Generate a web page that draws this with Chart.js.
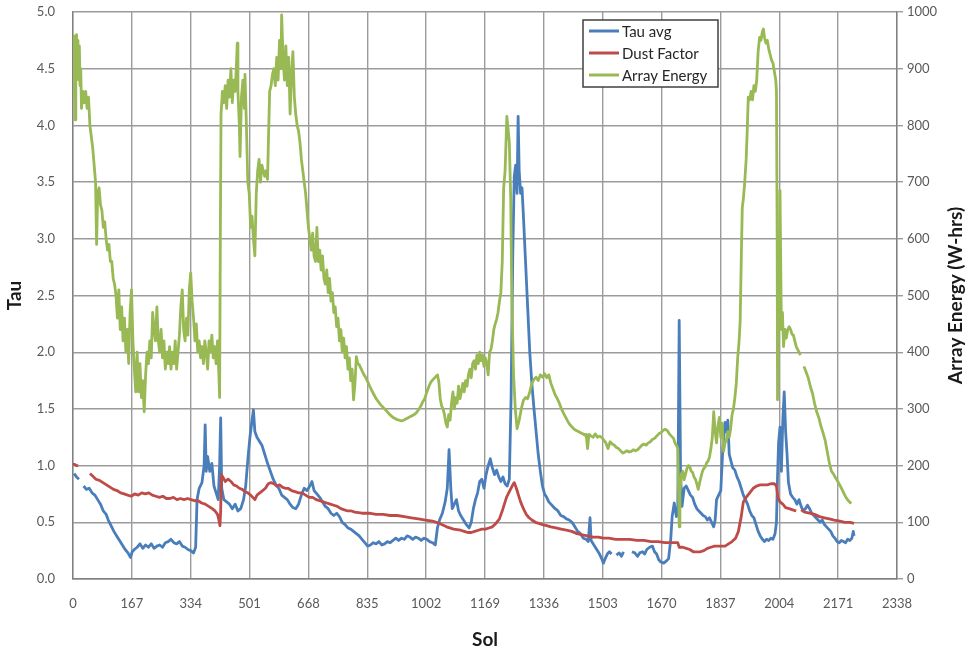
<!DOCTYPE html>
<html>
<head>
<meta charset="utf-8">
<title>Tau, Dust Factor and Array Energy by Sol</title>
<script src="https://cdn.jsdelivr.net/npm/chart.js@4/dist/chart.umd.min.js"></script>
<style>
  html, body { margin: 0; padding: 0; background: #fff; }
  #wrap { width: 965px; height: 653px; position: relative; }
</style>
</head>
<body>
<div id="wrap"><canvas id="solChart"></canvas></div>
<script>
// x axis: Sol, ticks every 167 sols
const solTicks = [0, 167, 334, 501, 668, 835, 1002, 1169, 1336, 1503, 1670, 1837, 2004, 2171, 2338];

// Tau avg (left axis)
const tauSols = [3, 10, 17, 24, 30, 38, 46, 54, 62, 70, 78, 86, 94, 100, 108, 116, 124, 132, 140, 148,
  156, 163, 168, 174, 182, 190, 198, 206, 214, 222, 230, 238, 246, 254, 262, 270, 278, 286, 294, 302,
  310, 318, 326, 334, 342, 348, 352, 358, 366, 372, 375, 378, 382, 388, 394, 400, 406, 412, 416, 419,
  422, 428, 436, 444, 452, 460, 468, 476, 484, 490, 496, 502, 508, 512, 516, 522, 528, 536, 544, 552,
  560, 568, 576, 584, 592, 600, 608, 616, 624, 632, 640, 648, 656, 664, 672, 678, 684, 692, 700, 708,
  716, 724, 732, 740, 748, 756, 764, 772, 780, 788, 796, 804, 812, 820, 828, 836, 844, 852, 860, 868,
  876, 884, 892, 900, 908, 916, 924, 932, 940, 948, 956, 964, 972, 980, 988, 996, 1004, 1012, 1020, 1028,
  1034, 1040, 1048, 1056, 1062, 1067, 1072, 1076, 1082, 1088, 1094, 1100, 1108, 1116, 1124, 1130, 1136, 1142, 1148, 1154,
  1160, 1166, 1172, 1178, 1184, 1190, 1196, 1202, 1208, 1214, 1220, 1226, 1232, 1238, 1243, 1248, 1252, 1256, 1260, 1263,
  1266, 1270, 1274, 1278, 1284, 1290, 1296, 1302, 1308, 1314, 1320, 1326, 1332, 1338, 1344, 1350, 1356, 1362, 1368, 1376,
  1384, 1392, 1400, 1408, 1416, 1424, 1432, 1440, 1448, 1456, 1462, 1467, 1470, 1478, 1486, 1494, 1500, 1505, 1510, 1516,
  1522, 1528, 1534, 1542, 1550, 1556, 1562, 1570, 1586, 1594, 1602, 1608, 1616, 1622, 1628, 1636, 1644, 1650, 1656, 1662,
  1668, 1676, 1684, 1690, 1696, 1700, 1706, 1712, 1716, 1720, 1724, 1728, 1734, 1740, 1746, 1752, 1758, 1764, 1770, 1776,
  1782, 1788, 1794, 1800, 1806, 1812, 1818, 1822, 1826, 1832, 1838, 1844, 1850, 1854, 1858, 1862, 1866, 1872, 1878, 1884,
  1890, 1896, 1902, 1908, 1914, 1920, 1926, 1932, 1938, 1944, 1950, 1956, 1962, 1968, 1974, 1980, 1986, 1992, 1996, 1999,
  2002, 2006, 2010, 2014, 2018, 2022, 2026, 2030, 2036, 2042, 2048, 2054, 2060, 2066, 2072, 2078, 2084, 2090, 2096, 2102,
  2108, 2114, 2120, 2126, 2132, 2138, 2144, 2150, 2156, 2162, 2168, 2174, 2180, 2186, 2192, 2198, 2204, 2210, 2214, 2216];
const tauValues = [0.93, 0.90, 0.88, null, 0.82, 0.79, 0.80, 0.76, 0.74, 0.70, 0.66, 0.60, 0.57, 0.52, 0.47, 0.42, 0.38, 0.34, 0.30, 0.26,
  0.23, 0.19, 0.24, 0.26, 0.28, 0.31, 0.27, 0.30, 0.28, 0.31, 0.27, 0.29, 0.30, 0.28, 0.32, 0.33, 0.35, 0.32, 0.31, 0.33,
  0.29, 0.28, 0.26, 0.25, 0.23, 0.28, 0.70, 0.80, 0.85, 1.00, 1.36, 0.95, 1.08, 0.95, 1.02, 0.82, 0.76, 0.70, 1.00, 1.42,
  0.80, 0.70, 0.68, 0.66, 0.62, 0.66, 0.60, 0.62, 0.70, 0.82, 1.05, 1.25, 1.40, 1.49, 1.30, 1.25, 1.22, 1.18, 1.10, 1.02,
  0.95, 0.88, 0.83, 0.80, 0.74, 0.72, 0.70, 0.66, 0.63, 0.62, 0.66, 0.74, 0.80, 0.78, 0.82, 0.86, 0.78, 0.75, 0.72, 0.68,
  0.64, 0.62, 0.58, 0.56, 0.58, 0.55, 0.50, 0.48, 0.45, 0.44, 0.42, 0.40, 0.38, 0.35, 0.32, 0.29, 0.30, 0.32, 0.31, 0.33,
  0.30, 0.31, 0.33, 0.32, 0.34, 0.36, 0.34, 0.36, 0.35, 0.38, 0.37, 0.35, 0.37, 0.36, 0.34, 0.36, 0.35, 0.33, 0.32, 0.30,
  0.45, 0.52, 0.58, 0.68, 0.80, 1.14, 0.80, 0.62, 0.66, 0.70, 0.60, 0.56, 0.52, 0.48, 0.45, 0.50, 0.62, 0.70, 0.76, 0.86,
  0.88, 0.80, 0.92, 1.00, 1.06, 0.98, 0.92, 0.96, 0.90, 0.86, 0.90, 0.84, 0.82, 0.88, 1.60, 2.90, 3.55, 3.65, 3.40, 4.08,
  3.60, 3.40, 3.45, 3.20, 2.80, 2.40, 2.00, 1.72, 1.50, 1.30, 1.10, 0.95, 0.82, 0.75, 0.72, 0.68, 0.66, 0.64, 0.62, 0.60,
  0.56, 0.55, 0.53, 0.52, 0.50, 0.46, 0.42, 0.40, 0.36, 0.35, 0.33, 0.54, 0.34, 0.30, 0.26, 0.22, 0.18, 0.14, 0.18, 0.22,
  0.24, 0.22, null, 0.21, 0.23, 0.20, 0.24, null, 0.24, 0.23, 0.20, 0.23, 0.24, 0.22, 0.26, 0.28, 0.29, 0.24, 0.22, 0.17,
  0.15, 0.14, 0.16, 0.18, 0.35, 0.55, 0.67, 0.55, 0.60, 2.28, 0.90, 0.64, 0.80, 0.82, 0.78, 0.74, 0.72, 0.66, 0.62, 0.60,
  0.58, 0.56, 0.55, 0.52, 0.54, 0.50, 0.46, 0.52, 0.70, 0.74, 0.78, 1.16, 1.38, 1.30, 1.40, 1.10, 1.05, 0.98, 0.96, 0.90,
  0.86, 0.80, 0.74, 0.70, 0.66, 0.60, 0.56, 0.54, 0.48, 0.42, 0.38, 0.35, 0.33, 0.35, 0.34, 0.36, 0.35, 0.40, 0.50, 0.90,
  1.20, 1.34, 0.95, 1.40, 1.65, 1.30, 1.10, 0.85, 0.75, 0.72, 0.70, 0.66, 0.70, 0.64, 0.60, 0.62, 0.65, 0.62, 0.58, 0.56,
  0.54, 0.52, 0.50, 0.52, 0.48, 0.46, 0.44, 0.42, 0.38, 0.36, 0.33, 0.32, 0.34, 0.33, 0.32, 0.35, 0.34, 0.36, 0.42, 0.38];

// Dust Factor (left axis)
const dustSols = [0, 5, 10, 15, 20, 48, 55, 65, 75, 85, 95, 105, 115, 125, 135, 145, 155, 165, 175, 185,
  195, 205, 215, 225, 235, 245, 255, 265, 275, 285, 295, 305, 315, 325, 335, 345, 355, 365, 375, 385,
  395, 403, 410, 414, 417, 419, 421, 425, 432, 440, 448, 456, 464, 472, 480, 488, 496, 504, 510, 516,
  522, 530, 538, 546, 554, 562, 570, 578, 586, 594, 602, 610, 620, 630, 640, 650, 660, 670, 680, 690,
  700, 710, 720, 730, 740, 750, 760, 770, 780, 790, 800, 820, 840, 860, 880, 900, 920, 940, 960, 980,
  1000, 1020, 1040, 1060, 1080, 1100, 1110, 1120, 1130, 1140, 1150, 1160, 1170, 1180, 1190, 1200, 1210, 1220, 1230, 1238,
  1246, 1252, 1258, 1264, 1270, 1278, 1286, 1294, 1302, 1312, 1322, 1332, 1344, 1356, 1370, 1385, 1400, 1415, 1430, 1445,
  1460, 1475, 1490, 1505, 1520, 1540, 1560, 1580, 1600, 1620, 1640, 1660, 1680, 1700, 1716, 1720, 1730, 1740, 1750, 1760,
  1770, 1780, 1790, 1800, 1810, 1820, 1830, 1840, 1850, 1860, 1870, 1880, 1888, 1896, 1902, 1910, 1920, 1930, 1940, 1950,
  1960, 1970, 1980, 1990, 1996, 2000, 2006, 2014, 2022, 2032, 2042, 2052, 2058, 2066, 2076, 2090, 2104, 2118, 2132, 2146,
  2160, 2176, 2190, 2205, 2216];
const dustValues = [1.01, 1.01, 1.00, 1.00, null, 0.93, 0.91, 0.88, 0.87, 0.85, 0.83, 0.81, 0.79, 0.78, 0.76, 0.75, 0.74, 0.73, 0.75, 0.74,
  0.76, 0.75, 0.76, 0.74, 0.73, 0.72, 0.73, 0.71, 0.71, 0.72, 0.70, 0.71, 0.70, 0.71, 0.70, 0.69, 0.69, 0.67, 0.66, 0.64,
  0.62, 0.60, 0.57, 0.52, 0.47, 0.60, 0.92, 0.90, 0.86, 0.88, 0.86, 0.83, 0.82, 0.80, 0.79, 0.77, 0.76, 0.74, 0.72, 0.70,
  0.74, 0.76, 0.78, 0.80, 0.84, 0.85, 0.84, 0.82, 0.83, 0.81, 0.80, 0.80, 0.78, 0.77, 0.76, 0.76, 0.74, 0.72, 0.72, 0.70,
  0.69, 0.68, 0.67, 0.66, 0.65, 0.64, 0.62, 0.61, 0.60, 0.60, 0.59, 0.58, 0.58, 0.57, 0.57, 0.56, 0.56, 0.55, 0.54, 0.53,
  0.52, 0.51, 0.49, 0.46, 0.44, 0.43, 0.42, 0.41, 0.41, 0.42, 0.43, 0.44, 0.44, 0.45, 0.46, 0.49, 0.53, 0.62, 0.72, 0.77,
  0.82, 0.85, 0.80, 0.74, 0.68, 0.62, 0.57, 0.54, 0.52, 0.50, 0.49, 0.48, 0.47, 0.46, 0.45, 0.44, 0.43, 0.42, 0.40, 0.39,
  0.38, 0.37, 0.37, 0.36, 0.36, 0.35, 0.35, 0.35, 0.34, 0.34, 0.33, 0.33, 0.32, 0.32, 0.32, 0.28, 0.28, 0.27, 0.26, 0.24,
  0.24, 0.24, 0.25, 0.27, 0.28, 0.29, 0.29, 0.29, 0.29, 0.31, 0.33, 0.36, 0.42, 0.55, 0.68, 0.72, 0.76, 0.80, 0.82, 0.83,
  0.83, 0.83, 0.84, 0.84, 0.82, 0.72, 0.68, 0.66, 0.63, 0.62, 0.61, 0.60, null, 0.61, 0.59, 0.58, 0.57, 0.55, 0.54, 0.53,
  0.52, 0.51, 0.50, 0.50, 0.49];

// Array Energy in W-hrs (right axis)
const energySols = [2, 4, 6, 8, 10, 12, 14, 16, 18, 20, 22, 24, 28, 32, 36, 40, 44, 48, 52, 56,
  60, 64, 67, 70, 74, 78, 82, 86, 90, 94, 98, 102, 106, 110, 114, 118, 122, 126, 130, 134,
  138, 142, 146, 150, 154, 158, 162, 166, 170, 174, 178, 182, 186, 190, 194, 198, 202, 206, 210, 214,
  218, 222, 226, 230, 234, 238, 242, 246, 250, 254, 258, 262, 266, 270, 274, 278, 282, 286, 290, 294,
  298, 302, 306, 310, 314, 318, 322, 326, 330, 334, 338, 342, 346, 350, 354, 358, 362, 366, 370, 374,
  378, 382, 386, 390, 394, 398, 402, 406, 410, 414, 416, 418, 420, 424, 428, 432, 436, 440, 444, 448,
  452, 456, 460, 464, 466, 468, 472, 474, 478, 482, 486, 488, 492, 496, 500, 504, 508, 512, 516, 520,
  524, 528, 532, 536, 540, 544, 548, 552, 554, 558, 562, 566, 570, 574, 578, 582, 586, 590, 592, 596,
  600, 604, 608, 612, 616, 620, 624, 628, 632, 636, 640, 644, 648, 652, 656, 660, 664, 668, 672, 676,
  680, 684, 688, 692, 696, 700, 704, 708, 712, 716, 720, 724, 728, 732, 736, 740, 744, 748, 752, 756,
  760, 764, 768, 772, 776, 780, 784, 788, 792, 796, 800, 804, 808, 812, 818, 824, 830, 836, 842, 848,
  854, 860, 866, 872, 878, 884, 890, 896, 902, 908, 914, 920, 926, 932, 938, 944, 950, 956, 962, 968,
  974, 980, 986, 992, 998, 1004, 1010, 1016, 1022, 1028, 1034, 1038, 1042, 1046, 1050, 1054, 1058, 1062, 1066, 1070,
  1074, 1078, 1082, 1086, 1090, 1094, 1098, 1102, 1106, 1110, 1114, 1118, 1122, 1126, 1130, 1134, 1138, 1142, 1146, 1150,
  1154, 1158, 1162, 1166, 1170, 1174, 1178, 1182, 1186, 1190, 1194, 1198, 1202, 1206, 1210, 1214, 1218, 1222, 1226, 1231,
  1235, 1238, 1242, 1245, 1250, 1255, 1260, 1266, 1272, 1278, 1284, 1290, 1296, 1302, 1308, 1314, 1320, 1326, 1332, 1338,
  1344, 1350, 1356, 1362, 1368, 1374, 1380, 1386, 1392, 1398, 1404, 1410, 1416, 1422, 1428, 1434, 1440, 1446, 1452, 1456,
  1460, 1464, 1470, 1476, 1482, 1488, 1494, 1500, 1506, 1512, 1518, 1524, 1530, 1536, 1542, 1548, 1554, 1560, 1566, 1572,
  1578, 1584, 1590, 1596, 1602, 1608, 1614, 1620, 1626, 1632, 1638, 1644, 1650, 1656, 1662, 1668, 1674, 1680, 1686, 1692,
  1698, 1704, 1708, 1712, 1716, 1718, 1720, 1722, 1726, 1730, 1734, 1738, 1742, 1746, 1750, 1754, 1758, 1762, 1766, 1770,
  1774, 1778, 1782, 1786, 1790, 1794, 1798, 1802, 1806, 1810, 1814, 1818, 1822, 1826, 1830, 1834, 1838, 1842, 1846, 1850,
  1854, 1858, 1862, 1866, 1870, 1874, 1878, 1882, 1886, 1890, 1893, 1896, 1899, 1902, 1906, 1910, 1913, 1916, 1920, 1924,
  1928, 1932, 1936, 1940, 1944, 1948, 1952, 1956, 1959, 1962, 1966, 1970, 1974, 1978, 1982, 1986, 1990, 1994, 1996, 1998,
  1999, 2001, 2004, 2006, 2008, 2010, 2013, 2016, 2020, 2024, 2028, 2032, 2036, 2040, 2044, 2048, 2052, 2056, 2060, 2064,
  2068, 2074, 2080, 2086, 2092, 2098, 2104, 2110, 2116, 2122, 2128, 2134, 2140, 2146, 2152, 2158, 2164, 2170, 2176, 2182,
  2188, 2194, 2200, 2205, 2208];
const energyValues = [960, 890, 810, 930, 960, 900, 950, 880, 940, 870, 900, 830, 860, 840, 860, 830, 850, 800, 780, 760,
  730, 700, 590, 680, 690, 660, 650, 620, 630, 600, 580, 590, 560, 560, 530, 520, 500, 460, 510, 440,
  480, 420, 460, 400, 440, 380, 470, 510, 420, 370, 330, 400, 330, 380, 320, 350, 295, 360, 400, 380,
  420, 390, 470, 440, 420, 480, 420, 400, 440, 390, 420, 370, 400, 380, 410, 370, 400, 380, 420, 370,
  400, 430, 480, 510, 440, 420, 460, 430, 510, 540, 490, 460, 420, 450, 400, 420, 390, 410, 380, 420,
  400, 370, 420, 400, 430, 390, 410, 380, 420, 360, 320, 600, 820, 860, 840, 870, 830, 880, 850, 900,
  840, 880, 860, 910, 945, 860, 800, 745, 850, 880, 830, 890, 800, 700, 680, 620, 640, 600, 570, 680,
  720, 740, 700, 730, 720, 710, 720, 705, 760, 860, 870, 890, 900, 870, 920, 880, 950, 900, 995, 920,
  880, 940, 870, 920, 820, 890, 930, 850, 820, 800, 790, 770, 740, 720, 700, 680, 650, 620, 600, 580,
  610, 570, 560, 620, 560, 580, 545, 570, 530, 520, 545, 505, 530, 490, 505, 470, 480, 445, 460, 420,
  440, 400, 425, 390, 410, 370, 390, 350, 370, 316, 345, 392, 380, 378, 370, 362, 356, 348, 340, 332,
  325, 318, 313, 308, 304, 300, 296, 292, 288, 285, 283, 281, 280, 279, 280, 282, 284, 286, 288, 290,
  293, 298, 304, 312, 318, 330, 340, 348, 352, 356, 360, 348, 318, 305, 300, 290, 275, 268, 290, 280,
  310, 330, 300, 320, 310, 340, 318, 330, 345, 330, 350, 340, 360, 370, 355, 380, 385, 370, 395, 380,
  400, 385, 395, 375, 390, 380, 360, 400, 405, 420, 440, 450, 458, 470, 490, 505, 560, 690, 720, 816,
  790, 770, 670, 500, 360, 300, 265, 280, 300, 315, 320, 318, 330, 345, 352, 356, 350, 360, 356, 362,
  355, 360, 345, 335, 325, 318, 310, 300, 292, 285, 278, 272, 268, 264, 262, 260, 258, 256, 254, 255,
  230, 255, 252, 250, 256, 250, 252, 250, 245, 240, 230, 242, 238, 236, 232, 230, 226, 222, 224, 226,
  224, 225, 228, 226, 228, 232, 236, 238, 236, 240, 242, 246, 248, 252, 256, 258, 262, 264, 262, 256,
  252, 248, 240, 236, 230, 160, 92, 150, 185, 190, 175, 185, 195, 200, 198, 190, 188, 180, 176, 168,
  158, 170, 180, 190, 195, 198, 205, 208, 215, 230, 250, 295, 260, 240, 270, 285, 250, 275, 225, 240,
  245, 260, 250, 265, 290, 300, 320, 345, 390, 420, 455, 560, 655, 670, 700, 740, 790, 850, 845, 860,
  845, 870, 860, 880, 930, 955, 950, 965, 970, 955, 945, 950, 935, 925, 915, 910, 895, 880, 860, 600,
  316, 420, 600, 685, 560, 440, 470, 410, 440, 425, 440, 445, 440, 432, 430, 420, 410, 405, 400, 395,
  null, 375, 365, 355, 340, 328, 310, 295, 285, 270, 258, 245, 225, 205, 190, 185, 178, 172, 165, 158,
  150, 143, 138, 135, 133];

const toPoints = (xs, ys) => xs.map((x, i) => ({ x: x, y: ys[i] }));

const FONT = "Lato, 'Open Sans', sans-serif";
const TEXT_GRAY = '#595959';
const GRID_GRAY = '#9b9b9b';

// legend drawn as a boxed overlay inside the plot, near the top
const boxedLegend = {
  id: 'boxedLegend',
  afterDraw(chart) {
    const { ctx, chartArea } = chart;
    const x0 = chartArea.left + 510;
    const y0 = chartArea.top + 8;
    const w = 135, h = 67, rowH = 22;
    ctx.save();
    ctx.fillStyle = '#fff';
    ctx.fillRect(x0, y0, w, h);
    ctx.strokeStyle = '#404040';
    ctx.lineWidth = 1.5;
    ctx.strokeRect(x0, y0, w, h);
    ctx.font = '15px ' + FONT;
    ctx.textBaseline = 'middle';
    chart.data.datasets.forEach((ds, i) => {
      const y = y0 + 11 + i * rowH;
      ctx.strokeStyle = ds.borderColor;
      ctx.lineWidth = 3;
      ctx.beginPath();
      ctx.moveTo(x0 + 6, y);
      ctx.lineTo(x0 + 36, y);
      ctx.stroke();
      ctx.fillStyle = '#262626';
      ctx.fillText(ds.label, x0 + 39, y + 1);
    });
    ctx.restore();
  }
};

// right-hand axis title, reading bottom to top like the left one
const rightTitle = {
  id: 'rightTitle',
  afterDraw(chart) {
    const { ctx, chartArea } = chart;
    ctx.save();
    ctx.translate(chart.width - 9, (chartArea.top + chartArea.bottom) / 2);
    ctx.rotate(-Math.PI / 2);
    ctx.font = 'bold 19px ' + FONT;
    ctx.fillStyle = '#1a1a1a';
    ctx.textAlign = 'center';
    ctx.textBaseline = 'middle';
    ctx.fillText('Array Energy (W-hrs)', 0, 0);
    ctx.restore();
  }
};

new Chart(document.getElementById('solChart'), {
  type: 'line',
  data: {
    datasets: [
      {
        label: 'Tau avg',
        data: toPoints(tauSols, tauValues),
        yAxisID: 'y',
        borderColor: '#4a7ebb',
        order: 3
      },
      {
        label: 'Dust Factor',
        data: toPoints(dustSols, dustValues),
        yAxisID: 'y',
        borderColor: '#be4b48',
        order: 2
      },
      {
        label: 'Array Energy',
        data: toPoints(energySols, energyValues),
        yAxisID: 'y1',
        borderColor: '#98b954',
        order: 1
      }
    ]
  },
  options: {
    responsive: true,
    maintainAspectRatio: false,
    animation: false,
    spanGaps: false,
    layout: { padding: { top: 12, left: 0, right: 0, bottom: 0 } },
    elements: {
      point: { radius: 0 },
      line: { borderWidth: 2.8, tension: 0, borderJoinStyle: 'round' }
    },
    plugins: {
      legend: { display: false },
      tooltip: { enabled: false }
    },
    scales: {
      x: {
        type: 'linear',
        min: solTicks[0],
        max: solTicks[solTicks.length - 1],
        afterBuildTicks: (scale) => { scale.ticks = solTicks.map(v => ({ value: v })); },
        afterFit: (scale) => { scale.height = 74; },
        grid: { color: GRID_GRAY, lineWidth: 1.4, drawTicks: false },
        border: { color: '#808080', width: 1.4 },
        ticks: {
          autoSkip: false, maxRotation: 0, padding: 17,
          color: TEXT_GRAY, font: { family: FONT, size: 13 },
          callback: (v) => String(v)
        },
        title: {
          display: true, text: 'Sol', color: '#1a1a1a',
          font: { family: FONT, size: 19, weight: 'bold' },
          padding: { top: 0, bottom: 2 }
        }
      },
      y: {
        position: 'left',
        min: 0,
        max: 5,
        afterFit: (scale) => { scale.width = 73; },
        // invisible tick marks keep the labels clear of the plot without extra padding
        grid: { color: GRID_GRAY, lineWidth: 1.4, drawTicks: true, tickLength: 18, tickColor: 'rgba(0,0,0,0)' },
        border: { color: '#808080', width: 1.4 },
        ticks: {
          stepSize: 0.5, padding: 0,
          color: TEXT_GRAY, font: { family: FONT, size: 13 },
          callback: (v) => v.toFixed(1)
        },
        title: {
          display: true, text: 'Tau', color: '#1a1a1a',
          font: { family: FONT, size: 19, weight: 'bold' },
          padding: { top: 3, bottom: 0 }
        }
      },
      y1: {
        position: 'right',
        min: 0,
        max: 1000,
        afterFit: (scale) => { scale.width = 68; },
        grid: { drawOnChartArea: false, color: GRID_GRAY, lineWidth: 1.4, tickLength: 6 },
        border: { color: '#808080', width: 1.4 },
        ticks: {
          stepSize: 100, padding: 4,
          color: TEXT_GRAY, font: { family: FONT, size: 13 },
          callback: (v) => String(v)
        }
      }
    }
  },
  plugins: [boxedLegend, rightTitle]
});
</script>
</body>
</html>
